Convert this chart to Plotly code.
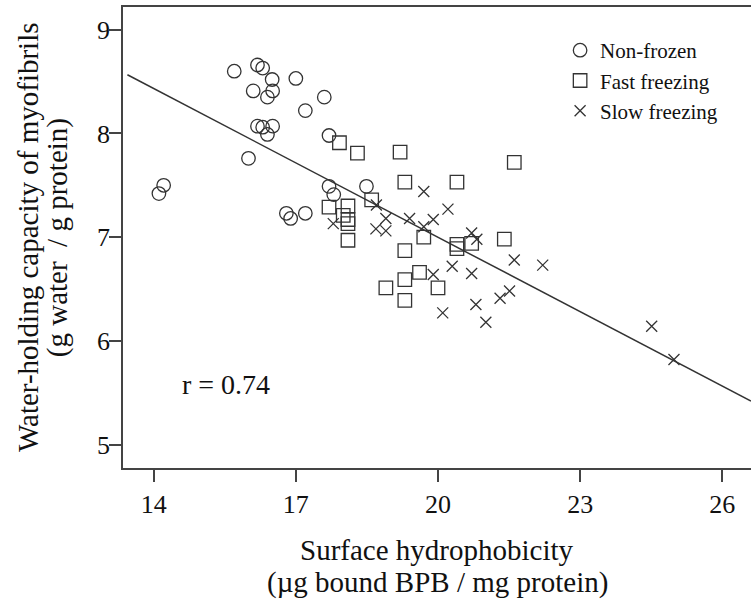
import plotly.graph_objects as go

# ---- data ----
nonfrozen_x = [14.11, 14.21, 15.70, 16.19, 16.30, 16.50, 17.00, 16.10, 16.51, 16.40, 17.60, 17.20,
               16.19, 16.30, 16.51, 16.40, 17.70, 16.00, 17.70, 17.80, 18.49, 16.80, 16.89, 17.20]
nonfrozen_y = [7.42, 7.50, 8.60, 8.66, 8.63, 8.52, 8.53, 8.41, 8.41, 8.35, 8.35, 8.22,
               8.07, 8.06, 8.07, 7.99, 7.98, 7.76, 7.49, 7.41, 7.49, 7.23, 7.18, 7.23]

fast_x = [17.92, 18.30, 19.20, 21.61, 19.30, 20.40, 18.60, 17.70, 18.10, 18.00, 18.10, 18.10,
          18.10, 19.70, 20.40, 20.40, 20.71, 21.40, 19.30, 19.61, 19.30, 18.90, 20.00, 19.30]
fast_y = [7.91, 7.81, 7.82, 7.72, 7.53, 7.53, 7.36, 7.29, 7.30, 7.21, 7.17, 7.13,
          6.97, 7.00, 6.93, 6.89, 6.94, 6.98, 6.87, 6.66, 6.59, 6.51, 6.51, 6.39]

slow_x = [17.79, 18.70, 18.90, 18.69, 18.90, 19.70, 19.40, 19.70, 19.90, 20.21, 20.71, 20.82,
          19.90, 20.30, 20.71, 21.61, 22.21, 20.10, 20.80, 21.01, 21.31, 21.51, 24.51, 24.98]
slow_y = [7.13, 7.31, 7.18, 7.08, 7.06, 7.44, 7.18, 7.10, 7.17, 7.27, 7.04, 6.98,
          6.64, 6.72, 6.65, 6.78, 6.73, 6.27, 6.35, 6.18, 6.41, 6.48, 6.14, 5.82]

fit_x = [13.445, 26.606]
fit_y = [8.566, 5.419]

x_ticks = [14, 17, 20, 23, 26]
y_ticks = [5, 6, 7, 8, 9]

FONT = "Liberation Serif, Times New Roman, serif"
INK = "#333333"
TXT = "#111111"

fig = go.Figure()
fig.add_trace(go.Scatter(x=fit_x, y=fit_y, mode="lines", line=dict(color=INK, width=1.5),
                         showlegend=False, hoverinfo="skip"))
fig.add_trace(go.Scatter(x=nonfrozen_x, y=nonfrozen_y, mode="markers", name="Non-frozen",
                         marker=dict(symbol="circle-open", size=13.5, color=INK, line=dict(width=1.3, color=INK))))
fig.add_trace(go.Scatter(x=fast_x, y=fast_y, mode="markers", name="Fast freezing",
                         marker=dict(symbol="square-open", size=13.5, color=INK, line=dict(width=1.3, color=INK))))
fig.add_trace(go.Scatter(x=slow_x, y=slow_y, mode="markers", name="Slow freezing",
                         marker=dict(symbol="x-thin-open", size=11, color=INK, line=dict(width=1.3, color=INK))))

fig.update_layout(
    template="none",
    width=751, height=600,
    margin=dict(l=123, r=0, t=7, b=132, autoexpand=False),
    paper_bgcolor="white", plot_bgcolor="white",
    font=dict(family=FONT, color=TXT),
    legend=dict(x=0.696, y=0.95, xanchor="left", yanchor="top",
                font=dict(family=FONT, size=21, color=TXT),
                bgcolor="rgba(0,0,0,0)", itemwidth=30, tracegroupgap=0),
    xaxis=dict(range=[13.352, 26.606], tickvals=x_ticks, ticktext=[str(v) for v in x_ticks],
               automargin=False,
               showgrid=False, zeroline=False, showline=True, linecolor="#444444", linewidth=1.6,
               mirror=True, ticks="outside", ticklen=12, tickwidth=1.6, tickcolor="#444444",
               tickfont=dict(family=FONT, size=26, color=TXT)),
    yaxis=dict(range=[4.774, 9.219], tickvals=y_ticks, ticktext=[str(v) for v in y_ticks],
               automargin=False, ticklabelstandoff=-6,
               showgrid=False, zeroline=False, showline=True, linecolor="#444444", linewidth=1.6,
               ticks="outside", ticklen=12, tickwidth=1.6, tickcolor="#444444",
               tickfont=dict(family=FONT, size=26, color=TXT)),
    annotations=[
        dict(text="r = 0.74", xref="x", yref="y", x=14.55, y=5.58, xanchor="left", yanchor="middle",
             showarrow=False, font=dict(family=FONT, size=28, color=TXT)),
        dict(text="Surface hydrophobicity", xref="paper", yref="paper", x=0.5, y=-0.178,
             xanchor="center", yanchor="middle", showarrow=False,
             font=dict(family=FONT, size=29, color=TXT)),
        dict(text="(µg bound BPB / mg protein)", xref="paper", yref="paper", x=0.5, y=-0.248,
             xanchor="center", yanchor="middle", showarrow=False,
             font=dict(family=FONT, size=29, color=TXT)),
        dict(text="Water-holding capacity of myofibrils", xref="paper", yref="paper", x=-0.152, y=0.5,
             xanchor="center", yanchor="middle", textangle=-90, showarrow=False,
             font=dict(family=FONT, size=29, color=TXT)),
        dict(text="(g water&nbsp; / g protein)", xref="paper", yref="paper", x=-0.104, y=0.5,
             xanchor="center", yanchor="middle", textangle=-90, showarrow=False,
             font=dict(family=FONT, size=29, color=TXT)),
    ],
)

fig.write_html("out.html", config={"displayModeBar": False},
               post_script="document.body.style.margin='0';document.body.style.overflow='hidden';")
